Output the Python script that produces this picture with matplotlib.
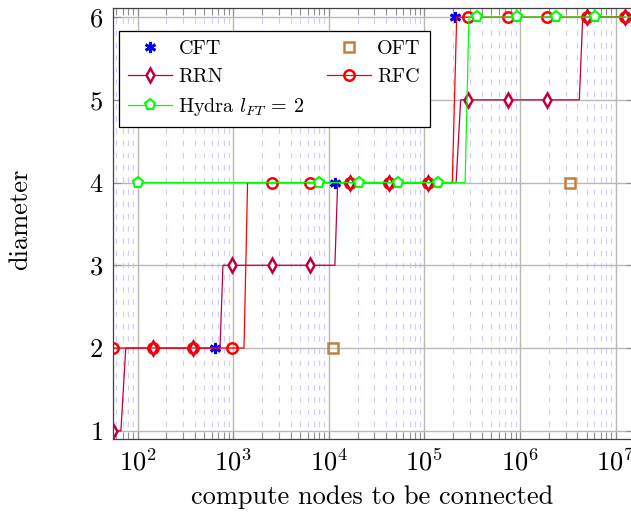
import matplotlib
matplotlib.use('Agg')
import matplotlib.pyplot as plt
from matplotlib.ticker import LogLocator, NullFormatter

plt.rcParams['font.family'] = 'cmr10'
plt.rcParams['mathtext.fontset'] = 'cm'
plt.rcParams['axes.formatter.use_mathtext'] = True

# marker positions shared by RFC and RRN
rand_n = [55.4, 145, 381, 973, 2550, 6370, 16700, 42700, 109000,
          286000, 748000, 1.91e6, 5.02e6, 1.26e7]
rfc_diam = [2, 2, 2, 2, 4, 4, 4, 4, 4, 6, 6, 6, 6, 6]
rrn_diam = [1, 2, 2, 3, 3, 3, 4, 4, 4, 5, 5, 5, 6, 6]

# step corners of the lines (no marker)
rfc_step_n = [1300, 1416, 196000, 218000]
rfc_step_d = [2, 4, 4, 6]
rrn_step_n = [67, 75.4, 729, 783, 11600, 12400, 215000, 240000, 4.18e6, 4.54e6]
rrn_step_d = [1, 2, 2, 3, 3, 4, 4, 5, 5, 6]

hydra_n = [101, 7930, 20700, 53100, 139000, 356000, 931000, 2.39e6, 6.11e6]
hydra_diam = [4, 4, 4, 4, 4, 6, 6, 6, 6]
hydra_step_n = [267000, 293000, 1.56e7]
hydra_step_d = [4, 6, 6]

cft_n = [648, 11664, 209952]
cft_diam = [2, 4, 6]
oft_n = [11170, 3.37e6]
oft_diam = [2, 4]

x_min, x_max = 55.4, 1.56e7


def merge(xm, ym, xc, yc):
    """Marker- und Eckpunkte zusammenfuehren, markevery-Indizes liefern."""
    pts = sorted([(x, y, True) for x, y in zip(xm, ym)] +
                 [(x, y, False) for x, y in zip(xc, yc)], key=lambda p: p[0])
    xs = [p[0] for p in pts]
    ys = [p[1] for p in pts]
    idx = [i for i, p in enumerate(pts) if p[2]]
    return xs, ys, idx


fig = plt.figure(figsize=(6.31, 5.12), dpi=100)
ax = fig.add_axes([113 / 631, 1 - 439 / 512, 521 / 631, 431 / 512])

h_cft, = ax.plot(cft_n, cft_diam, ls='none', marker=(6, 2, 0), ms=8, mew=2,
                 color='blue', label='CFT')
h_oft, = ax.plot(oft_n, oft_diam, ls='none', marker='s', ms=7.5, mew=1.8,
                 mfc='none', color='#bf8040', label='OFT')

xs, ys, idx = merge(rand_n, rrn_diam, rrn_step_n, rrn_step_d)
h_rrn, = ax.plot(xs, ys, color='#bf0040', lw=0.9, marker='d', ms=7, mew=1.8,
                 mfc='white', markevery=idx, label='RRN')

xs, ys, idx = merge(rand_n, rfc_diam, rfc_step_n, rfc_step_d)
h_rfc, = ax.plot(xs, ys, color='red', lw=0.9, marker='o', ms=7.5, mew=1.8,
                 mfc='none', markevery=idx, label='RFC')

xs, ys, idx = merge(hydra_n, hydra_diam, hydra_step_n, hydra_step_d)
h_hyd, = ax.plot(xs, ys, color='#00ff00', lw=0.9, marker='p', ms=8, mew=1.5,
                 mfc='white', markevery=idx, label=r'Hydra $l_{FT}$ = 2')

ax.set_xscale('log')
ax.set_xlim(x_min, x_max)
ax.set_ylim(0.9, 6.11)
ax.set_yticks([1, 2, 3, 4, 5, 6])
ax.xaxis.set_major_locator(LogLocator(base=10, numticks=20))
ax.xaxis.set_minor_locator(LogLocator(base=10, subs=range(2, 10), numticks=100))
ax.xaxis.set_minor_formatter(NullFormatter())

ax.set_axisbelow(True)
ax.grid(True, which='major', color='#b8b8b8', lw=1.0)
ax.grid(True, which='minor', axis='x', color='#ccccff', lw=0.8, ls=(0, (5, 6)))

ax.tick_params(which='both', direction='in', top=True, right=True,
               color='#909090', labelsize=19)
ax.tick_params(which='major', length=6, width=0.8, pad=7)
ax.tick_params(which='minor', length=5, width=0.8)
for s in ax.spines.values():
    s.set_color('#404040')
    s.set_linewidth(0.9)

ax.set_xlabel('compute nodes to be connected', fontsize=19)
ax.set_ylabel('diameter', fontsize=19)
ax.xaxis.set_label_coords(0.497, -0.108)
ax.yaxis.set_label_coords(-0.155, 0.51)

leg = ax.legend(handles=[h_cft, h_rrn, h_hyd, h_oft, h_rfc], ncol=2,
                loc='upper left', bbox_to_anchor=(0.0115, 0.9466),
                borderaxespad=0, fontsize=14.5, fancybox=False, framealpha=1,
                edgecolor='black', handlelength=2.2, handletextpad=0.3,
                columnspacing=1.1, labelspacing=0.5, borderpad=0.45)
leg.get_frame().set_linewidth(0.9)

fig.savefig('out.png', dpi=100)
